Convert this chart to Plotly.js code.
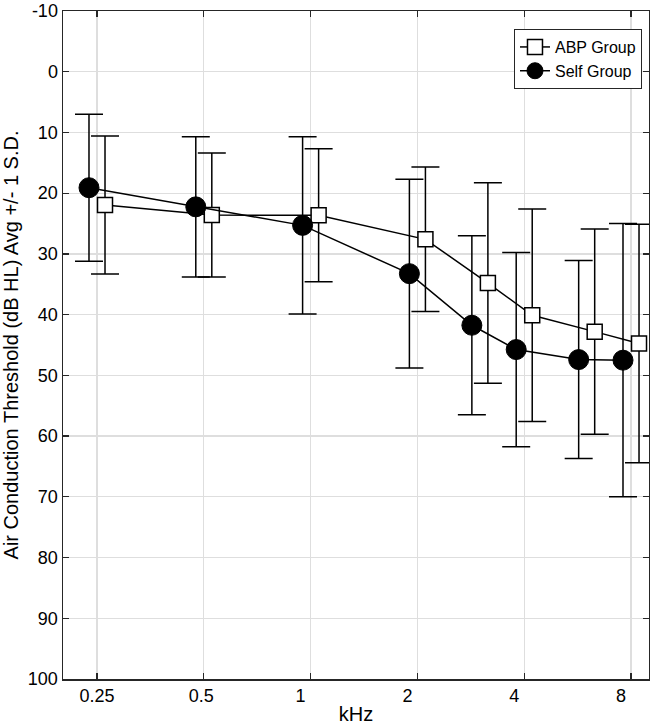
<!DOCTYPE html>
<html>
<head>
<meta charset="utf-8">
<script src="https://cdn.plot.ly/plotly-3.0.1.min.js"></script>
<style>html,body{margin:0;padding:0;background:#fff;}#chart{width:650px;height:727px;}</style>
</head>
<body>
<div id="chart"></div>
<script>
// Frequencies (kHz)
var freqs = [0.25, 0.5, 1, 2, 3, 4, 6, 8];
// ABP Group: mean threshold and 1 S.D.
var abpMean = [21.95, 23.6, 23.65, 27.6, 34.8, 40.1, 42.8, 44.75];
var abpSD   = [11.35, 10.2, 10.95, 11.9, 16.5, 17.5, 16.9, 19.65];
// Self Group: mean threshold and 1 S.D.
var selfMean = [19.1, 22.25, 25.3, 33.25, 41.75, 45.75, 47.4, 47.5];
var selfSD   = [12.1, 11.55, 14.6, 15.55, 14.75, 16.0, 16.3, 22.5];
// Tick labels
var xTickVals = [0.25, 0.5, 1, 2, 4, 8];
var xTickText = ['0.25', '0.5', '1', '2', '4', '8'];
var yTickVals = [-10, 0, 10, 20, 30, 40, 50, 60, 70, 80, 90, 100];
var yTickText = ['-10', '0', '10', '20', '30', '40', '50', '60', '70', '80', '90', '100'];

// horizontal dodge of the two groups (multiplicative on log axis)
var dodge = Math.pow(2, 0.075);
var selfX = freqs.map(function (f) { return f / dodge; });
var abpX = freqs.map(function (f) { return f * dodge; });

var font = 'Liberation Sans, Arial, Helvetica, sans-serif';
var ink = '#000000';

var abp = {
  x: abpX, y: abpMean, name: 'ABP Group', type: 'scatter', mode: 'lines+markers',
  line: {color: ink, width: 1.5},
  marker: {symbol: 'square', size: 15, color: '#ffffff', line: {color: ink, width: 1.5}},
  error_y: {type: 'data', array: abpSD, visible: true, color: ink, thickness: 1.5, width: 14}
};
var self = {
  x: selfX, y: selfMean, name: 'Self Group', type: 'scatter', mode: 'lines+markers',
  line: {color: ink, width: 1.5},
  marker: {symbol: 'circle', size: 20, color: ink, line: {color: ink, width: 1}},
  error_y: {type: 'data', array: selfSD, visible: true, color: ink, thickness: 1.5, width: 14}
};

// pad single-digit labels so that they sit slightly left of their grid line, as in the original
var pad = ['', '\u00A0', '\u00A0\u00A0\u00A0\u00A0', '\u00A0\u00A0\u00A0\u00A0', '\u00A0\u00A0\u00A0\u00A0', '\u00A0\u00A0\u00A0\u00A0'];
var xTickShown = xTickText.map(function (t, i) { return t + pad[i]; });

var layout = {
  width: 650, height: 727,
  margin: {l: 63, r: 1, t: 11, b: 48},
  paper_bgcolor: '#ffffff', plot_bgcolor: '#ffffff',
  font: {family: font, color: '#000'},
  showlegend: true,
  legend: {
    x: 0.7696, y: 0.973, xanchor: 'left', yanchor: 'top',
    bgcolor: '#ffffff', bordercolor: '#262626', borderwidth: 1,
    font: {family: font, size: 16, color: '#000'},
    traceorder: 'normal'
  },
  xaxis: {
    type: 'log',
    range: [-0.6979, 0.9538],
    tickvals: xTickVals, ticktext: xTickShown,
    tickfont: {family: font, size: 18, color: '#000'},
    ticks: 'inside', ticklen: 6, tickwidth: 1.2, tickcolor: '#262626',
    showgrid: true, gridcolor: '#dedede', gridwidth: 1.2,
    showline: true, linecolor: '#262626', linewidth: 1.5, mirror: 'ticks',
    zeroline: false,
    title: {text: 'kHz', font: {family: font, size: 20, color: '#000'}, standoff: 2}
  },
  yaxis: {
    range: [100, -10],
    tickvals: yTickVals, ticktext: yTickText,
    tickfont: {family: font, size: 18, color: '#000'},
    ticks: 'inside', ticklen: 6, tickwidth: 1.2, tickcolor: '#262626',
    showgrid: true, gridcolor: '#dedede', gridwidth: 1.2,
    showline: true, linecolor: '#262626', linewidth: 1.5, mirror: 'ticks',
    zeroline: false,
    title: {text: 'Air Conduction Threshold (dB HL) Avg +/- 1 S.D.', font: {family: font, size: 20, color: '#000'}, standoff: 6}
  }
};

Plotly.newPlot('chart', [abp, self], layout, {staticPlot: true, displayModeBar: false});
</script>
</body>
</html>
